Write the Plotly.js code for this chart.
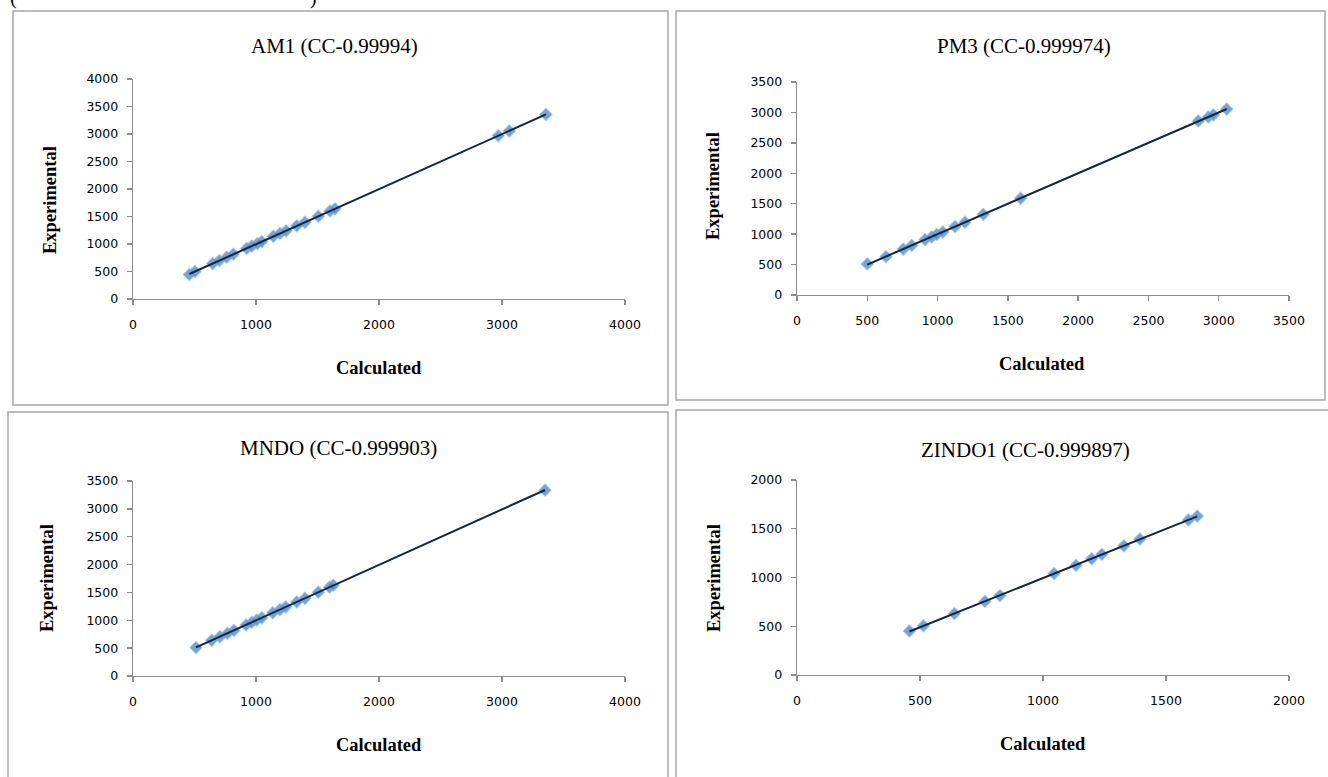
<!DOCTYPE html>
<html>
<head>
<meta charset="utf-8">
<script src="https://cdn.plot.ly/plotly-3.0.1.min.js"></script>
<style>html,body{margin:0;padding:0;background:#fff;}#chart{width:1328px;height:777px;}</style>
</head>
<body>
<div id="chart"></div>
<script>
// ---- Data ----
const am1Calc = [458, 504, 648, 702, 762, 816, 924, 965, 1011, 1047, 1141, 1195, 1244, 1331, 1398, 1507, 1602, 1642, 2970, 3059, 3357];
const am1Exp  = [445, 500, 645, 700, 760, 815, 920, 962, 1008, 1045, 1140, 1192, 1240, 1330, 1395, 1505, 1600, 1640, 2968, 3055, 3355];

const pm3Calc = [500, 633, 756, 816, 911, 958, 994, 1037, 1124, 1195, 1325, 1591, 2855, 2926, 2962, 3057];
const pm3Exp  = [510, 630, 755, 815, 910, 955, 995, 1035, 1125, 1195, 1325, 1590, 2860, 2925, 2960, 3055];

const mndoCalc = [512, 640, 707, 767, 821, 919, 965, 1006, 1047, 1136, 1195, 1241, 1331, 1398, 1507, 1597, 1628, 3350];
const mndoExp  = [510, 640, 705, 765, 820, 915, 962, 1005, 1045, 1135, 1192, 1240, 1330, 1395, 1505, 1595, 1630, 3335];

const zinCalc = [457, 514, 640, 764, 825, 1045, 1134, 1198, 1239, 1329, 1394, 1591, 1627];
const zinExp  = [451, 505, 630, 755, 815, 1040, 1125, 1192, 1238, 1325, 1395, 1590, 1630];

const panelTitles = ["AM1 (CC-0.99994)", "PM3 (CC-0.999974)", "MNDO (CC-0.999903)", "ZINDO1 (CC-0.999897)"];
const xTitle = "Calculated";
const yTitle = "Experimental";
const xRanges = [[0, 4000], [0, 3500], [0, 4000], [0, 2000]];
const yRanges = [[0, 4000], [0, 3500], [0, 3500], [0, 2000]];
const xDticks = [1000, 500, 1000, 500];
const yDticks = [500, 500, 500, 500];

// ---- Layout geometry (pixels) ----
const W = 1328, H = 777;
const fx = p => p / W;
const fy = p => 1 - p / H;
const plots = [
  {x0: 133, x1: 625, yTop: 79, yBot: 299},
  {x0: 797, x1: 1289, yTop: 82, yBot: 295},
  {x0: 133, x1: 625, yTop: 481, yBot: 676},
  {x0: 797, x1: 1289, yTop: 480, yBot: 675}
];
const titlePos = [[335, 46], [1024, 46], [338, 448], [1025, 450]];
const xTitlePos = [[379, 368], [1042, 364], [379, 745], [1043, 744]];
const yTitlePos = [[50, 200], [713, 186], [47, 578], [714, 578]];
const borders = [[13, 11, 668, 405], [676, 11, 1325, 400], [8, 412, 668, 790], [676, 410, 1340, 790]];

const datasets = [[am1Calc, am1Exp], [pm3Calc, pm3Exp], [mndoCalc, mndoExp], [zinCalc, zinExp]];

function fit(x, y) {
  const n = x.length;
  let sx = 0, sy = 0, sxx = 0, sxy = 0;
  for (let i = 0; i < n; i++) { sx += x[i]; sy += y[i]; sxx += x[i]*x[i]; sxy += x[i]*y[i]; }
  const b = (n*sxy - sx*sy) / (n*sxx - sx*sx);
  const a = (sy - b*sx) / n;
  const mn = Math.min(...x), mx = Math.max(...x);
  return {x: [mn, mx], y: [a + b*mn, a + b*mx]};
}

const traces = [];
const layout = {
  width: W, height: H,
  margin: {l: 0, r: 0, t: 0, b: 0},
  paper_bgcolor: '#ffffff', plot_bgcolor: '#ffffff',
  showlegend: false,
  shapes: [], annotations: []
};

const axisCommon = {
  showgrid: false, zeroline: false, showline: true,
  linecolor: '#8c8c8c', linewidth: 1.3,
  ticks: 'outside', ticklen: 5, tickcolor: '#8c8c8c', tickwidth: 1.3,
  tickfont: {family: 'DejaVu Sans, Verdana, sans-serif', size: 12.5, color: '#000'},
  fixedrange: true
};

datasets.forEach((d, i) => {
  const k = i === 0 ? '' : String(i + 1);
  const p = plots[i];
  layout['xaxis' + k] = Object.assign({}, axisCommon, {
    domain: [fx(p.x0), fx(p.x1)], anchor: 'y' + k,
    range: xRanges[i], dtick: xDticks[i], tick0: 0, ticklabelstandoff: 9
  });
  layout['yaxis' + k] = Object.assign({}, axisCommon, {
    domain: [fy(p.yBot), fy(p.yTop)], anchor: 'x' + k,
    range: yRanges[i], dtick: yDticks[i], tick0: 0, ticklabelstandoff: 6
  });
  traces.push({
    x: d[0], y: d[1], type: 'scatter', mode: 'markers',
    xaxis: 'x' + k, yaxis: 'y' + k,
    marker: {symbol: 'diamond', size: 9, color: 'rgba(79,141,206,0.8)',
             line: {color: 'rgba(120,170,225,0.6)', width: 1.5}},
    hoverinfo: 'skip'
  });
  const f = fit(d[0], d[1]);
  traces.push({
    x: f.x, y: f.y, type: 'scatter', mode: 'lines',
    xaxis: 'x' + k, yaxis: 'y' + k,
    line: {color: '#16263a', width: 2}, hoverinfo: 'skip'
  });
  const b = borders[i];
  layout.shapes.push({type: 'rect', xref: 'paper', yref: 'paper',
    x0: fx(b[0]), x1: fx(b[2]), y0: fy(b[3]), y1: fy(b[1]),
    line: {color: '#a6a6a6', width: 1.5}, fillcolor: 'rgba(0,0,0,0)', layer: 'below'});
  layout.annotations.push({text: panelTitles[i], xref: 'paper', yref: 'paper',
    x: fx(titlePos[i][0]), y: fy(titlePos[i][1]), xanchor: 'center', yanchor: 'middle',
    showarrow: false, font: {family: 'Liberation Serif, Times New Roman, serif', size: 21, color: '#000'}});
  layout.annotations.push({text: '<b>' + xTitle + '</b>', xref: 'paper', yref: 'paper',
    x: fx(xTitlePos[i][0]), y: fy(xTitlePos[i][1]), xanchor: 'center', yanchor: 'middle',
    showarrow: false, font: {family: 'Liberation Serif, Times New Roman, serif', size: 18.5, color: '#000'}});
  layout.annotations.push({text: '<b>' + yTitle + '</b>', xref: 'paper', yref: 'paper',
    x: fx(yTitlePos[i][0]), y: fy(yTitlePos[i][1]), xanchor: 'center', yanchor: 'middle',
    textangle: -90, showarrow: false,
    font: {family: 'Liberation Serif, Times New Roman, serif', size: 18.5, color: '#000'}});
});

// clipped caption line at top edge (as in the reference)
layout.annotations.push({text: '(', xref: 'paper', yref: 'paper', x: fx(8), y: fy(-3),
  xanchor: 'left', yanchor: 'middle', showarrow: false,
  font: {family: 'Liberation Serif, serif', size: 20, color: '#000'}});
layout.annotations.push({text: ')', xref: 'paper', yref: 'paper', x: fx(308), y: fy(-3),
  xanchor: 'left', yanchor: 'middle', showarrow: false,
  font: {family: 'Liberation Serif, serif', size: 20, color: '#000'}});

Plotly.newPlot('chart', traces, layout, {staticPlot: true, displayModeBar: false});
</script>
</body>
</html>
